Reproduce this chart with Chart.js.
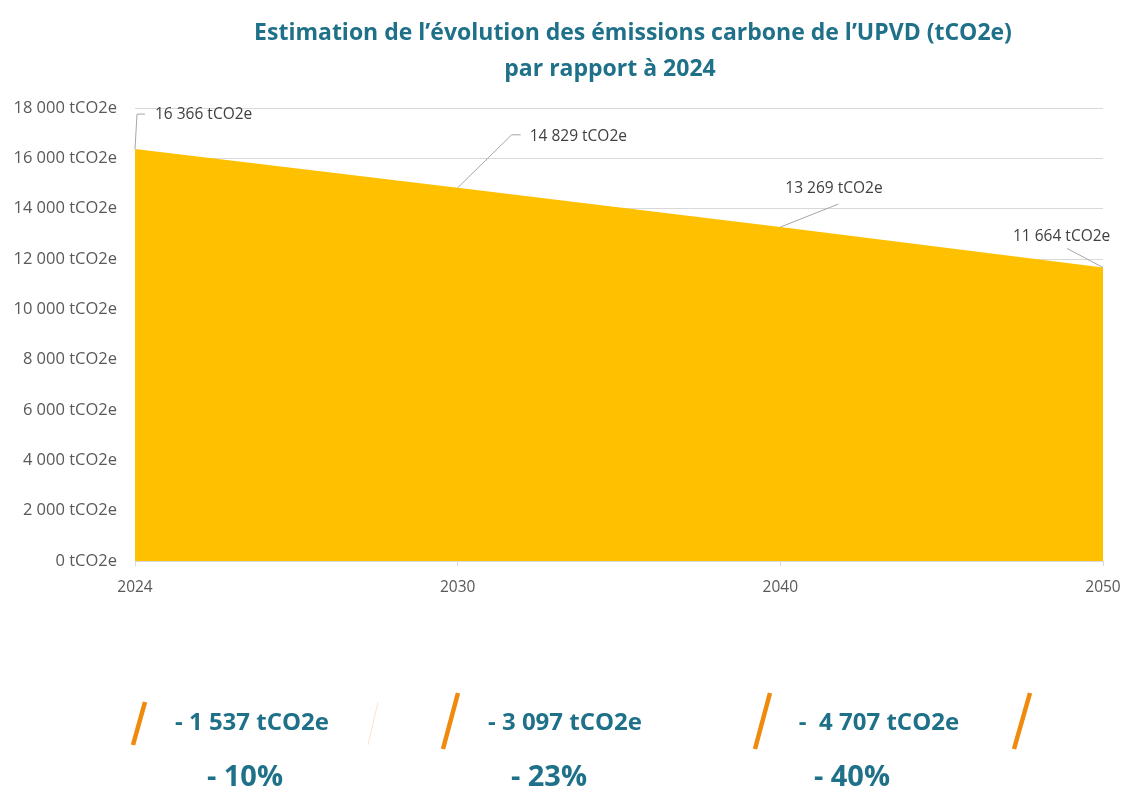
<!DOCTYPE html>
<html><head><meta charset="utf-8">
<script src="https://cdn.jsdelivr.net/npm/chart.js@4/dist/chart.umd.min.js"></script>
<style>html,body{margin:0;padding:0;background:#fff}#wrap{width:1126px;height:792px;position:relative}</style>
</head><body><div id="wrap"><canvas id="c" width="1126" height="792"></canvas></div>
<script>
const categories = ['2024', '2030', '2040', '2050'];
const emissions = [16366, 14829, 13269, 11664];
const titleLines = ['Estimation de l\u2019évolution des émissions carbone de l\u2019UPVD (tCO2e)', 'par rapport à 2024'];
const reductionLabels = ['- 1 537 tCO2e', '- 3 097 tCO2e', '-  4 707 tCO2e'];
const percentLabels = ['- 10%', '- 23%', '- 40%'];

const TEAL = '#1f7089';
const ORANGE = '#f08a0c';
const FONT = '"Open Sans", "Noto Sans", sans-serif';

function fmt(v){ return String(Math.round(v)).replace(/\B(?=(\d{3})+(?!\d))/g,' ') + ' tCO2e'; }

// leader-line offsets (styling only)
const leaderStyle = [
  {pts:[[2,-35],[10,-35]], tx:20, ty:-35},
  {pts:[[54,-53],[63,-53]], tx:72, ty:-51},
  {pts:[[58,-23]], tx:5, ty:-38},
  {pts:[[-36,-19]], tx:-90, ty:-31}
];

const overlay = {
  id:'overlay',
  afterDraw(chart){
    const ctx = chart.ctx;
    ctx.save();
    ctx.fillStyle = TEAL;
    ctx.font = 'bold 23px ' + FONT;
    ctx.textAlign = 'center'; ctx.textBaseline = 'middle';
    ctx.fillText(titleLines[0], 633, 33);
    ctx.fillText(titleLines[1], 610, 69);
    const meta = chart.getDatasetMeta(0);
    ctx.font = '15.5px ' + FONT;
    meta.data.forEach((p,i)=>{
      const s = leaderStyle[i];
      ctx.strokeStyle = '#a6a6a6'; ctx.lineWidth = 1;
      ctx.beginPath(); ctx.moveTo(p.x, p.y);
      s.pts.forEach(q=>ctx.lineTo(p.x+q[0], p.y+q[1]));
      ctx.stroke();
      ctx.fillStyle = '#404040'; ctx.textAlign = 'left'; ctx.textBaseline='middle';
      ctx.fillText(fmt(emissions[i]), p.x+s.tx, p.y+s.ty);
    });
    const slashes = [[145,702,133,745,ORANGE],[378,702,368,745,'#fbe3cc'],[458,693,443,749,ORANGE],[770,693,755,749,ORANGE],[1030,693,1014,749,ORANGE]];
    slashes.forEach(s=>{
      ctx.strokeStyle = s[4]; ctx.lineWidth = s[4]===ORANGE?4.5:1;
      ctx.beginPath(); ctx.moveTo(s[0],s[1]); ctx.lineTo(s[2],s[3]); ctx.stroke();
    });
    ctx.fillStyle = TEAL; ctx.textAlign='center'; ctx.textBaseline='middle';
    const rx = [252, 565, 879], px = [245, 549, 852];
    ctx.font = 'bold 24px ' + FONT;
    reductionLabels.forEach((t,i)=>ctx.fillText(t, rx[i], 723));
    ctx.font = 'bold 29px ' + FONT;
    percentLabels.forEach((t,i)=>ctx.fillText(t, px[i], 778));
    ctx.restore();
  }
};

new Chart(document.getElementById('c'), {
  type:'line',
  data:{labels:categories, datasets:[{data:emissions, fill:'origin', backgroundColor:'#ffc000', borderColor:'#ffc000', borderWidth:0, pointRadius:0, tension:0}]},
  options:{
    responsive:false, animation:false,
    layout:{padding:{top:108, right:23, left:0, bottom:0}},
    plugins:{legend:{display:false}, tooltip:{enabled:false}, title:{display:false}},
    scales:{
      x:{offset:false, grid:{display:true, drawOnChartArea:false, tickLength:5, color:'#d9d9d9'}, border:{color:'#d9d9d9'},
         ticks:{color:'#595959', font:{family:FONT, size:15.5}, padding:12, maxRotation:0},
         afterFit(s){ s.height = 231; s.paddingLeft = 0; s.paddingRight = 0; }},
      y:{min:0, max:18000, ticks:{stepSize:2000, color:'#595959', font:{family:FONT, size:16.5}, padding:18, callback:v=>fmt(v)},
         grid:{color:'#d9d9d9', drawTicks:false}, border:{display:false},
         afterFit(s){ s.width = 135; s.paddingTop = 0; s.paddingBottom = 0; }}
    }
  },
  plugins:[overlay]
});
</script></body></html>
